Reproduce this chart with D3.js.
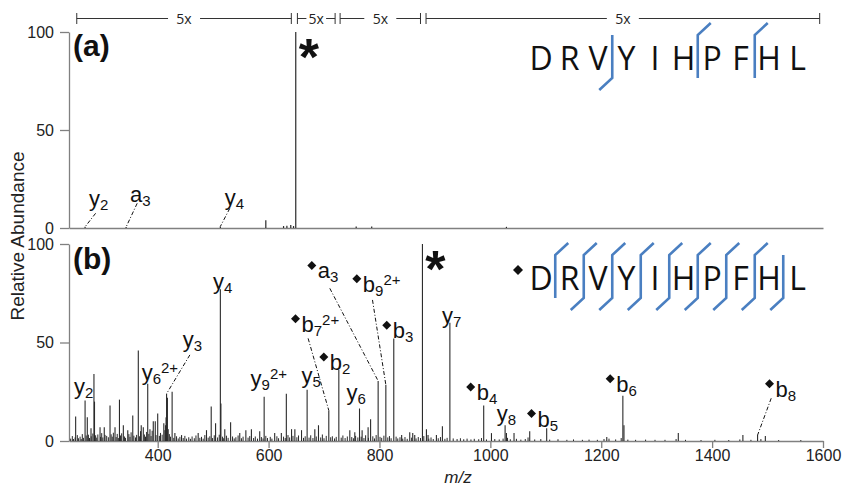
<!DOCTYPE html>
<html>
<head>
<meta charset="utf-8">
<script src="https://cdn.jsdelivr.net/npm/d3@7"></script>
<style>
body{margin:0;background:#fff;}
svg{display:block;font-family:"Liberation Sans",Arial,sans-serif;}
.axis path,.axis line{stroke:#808080;stroke-width:1.3;}
.axis text{fill:#222;font-size:16px;font-family:"Liberation Sans",Arial,sans-serif;}
.ion{font-family:"Liberation Sans Narrow","Arial Narrow","Liberation Sans",sans-serif;font-size:22px;fill:#111;}
.seq{font-family:"Open Sans",sans-serif;font-size:32px;fill:#111;}
</style>
</head>
<body>
<div id="chart"></div>
<script>
// ---- data ----
var mzDomain = [240, 1600];
var xTicks = [400, 600, 800, 1000, 1200, 1400, 1600];
var yTicks = [0, 50, 100];

var precursorA = 649;
var precursorB = 877.5;

// [m/z, relative abundance]
var peaksA = [[269,0.6],[343,0.5],[513,0.8],[595,4],[627,1],[633,1.2],[640,1.5],[645,1],
	[649,100],[758,0.8],[786,0.8],[1029,0.6]];

var peaksB = [[252,12.5],[269,20.5],[273,12],[279.7,6.5],[285,34],[286,20],[296,7],[303.6,7],
	[314,18],[323,7],[331,21],[338,8],[346,5.5],[355,13],[365,46],[370.3,8],[374,7],[382,29],
	[386,6],[392,10],[395.6,10],[400,14],[411,9],[416,24],[417.5,22],[426,25],[431,4],[443,3],
	[473,4],[488,5.5],[496.5,17.5],[504.4,9],[513,77],[514,19],[521,6],[531.5,9.5],[548,4],
	[559,5.5],[569,6],[584,5],[592,22.5],[611,4],[623,4],[632,24],[641.4,6],[647.4,6],
	[659.4,5.5],[669.5,26],[683.4,6],[690,8],[708.6,15.5],[726.7,36],[746.5,5.5],[755.5,4.5],
	[764,16.5],[768.7,5.5],[779.5,7],[784,11],[797.6,30.5],[811.5,28.5],[825.8,52],[840,3],
	[854.6,4.5],[860,4],[863.6,3],[877.5,100],[884.7,6],[887.6,3],[902.7,3],[913.5,7.5],
	[927,60],[988,18],[1002,4],[1026.6,8],[1029,4],[1042.7,4],[1071,5],[1101.6,6.5],[1210,2],
	[1239,23],[1241,8],[1339,4],[1455.5,3],[1482,3],[1496,2.5]];

var noiseB = [[243,1.2],[246,2.5],[248,1],[251,1.8],[255,3],[257,1.4],[260,2.2],[262,1],[264,3.5],
	[266,1.6],[271,2.8],[275,3.2],[277,1.5],[280,2.4],[283,3.8],[288,2.9],[290,1.7],[292,3.3],
	[297,2.1],[299,4],[301,1.8],[305,3.1],[308,2.6],[311,1.9],[316,3.4],[318,2.2],[320,4.2],
	[325,2],[327,3.6],[329,1.5],[333,2.8],[335,3.9],[340,2.3],[342,1.6],[348,3.5],[350,2.1],
	[352,4.4],[357,2.7],[360,1.8],[362,3.1],[367,2.4],[369,5],[376,3.3],[378,2.2],[380,4.6],
	[384,3.6],[388,2.5],[390,5.2],[397,3],[403,2.6],[405,4.1],[408,3.2],[413,5.5],[414,8],
	[415,12],[419,6],[421,3.5],[423,2.2],[429,1.6],[434,2.4],[437,1.3],[440,2.1],[446,1.5],
	[449,2.6],[452,1.2],[456,1.9],[459,1.1],[462,2.3],[466,1.4],[469,2.8],[476,1.6],[479,2.1],
	[482,1.2],[485,3],[491,1.7],[494,2.4],[499,1.5],[502,2.9],[508,1.8],[511,3.2],[517,2.2],
	[519,1.4],[524,2.7],[527,1.6],[535,2.3],[538,1.3],[541,1.9],[545,2.8],[551,1.4],[554,2.2],
	[563,1.7],[566,2.5],[573,1.5],[576,2.3],[580,1.2],[587,2],[590,1.3],[595,2.6],[598,1.5],
	[603,2.1],[606,1.2],[615,2.4],[618,1.4],[627,2.2],[630,1.5],[635,3],[638,1.8],[644,2.6],
	[651,1.9],[654,2.8],[663,1.6],[666,2.4],[673,1.7],[676,2.9],[680,1.5],[686,2.3],[694,1.8],
	[697,3.3],[700,1.4],[704,2.6],[712,1.9],[715,2.4],[719,1.3],[722,2.1],[731,1.7],[734,2.8],
	[738,1.5],[742,2.3],[750,2],[753,1.4],[757,2.6],[761,1.8],[767,2.2],[772,1.5],[775,2.9],
	[780,1.6],[788,2.4],[791,1.3],[794,3],[801,2.1],[804,1.6],[808,2.7],[815,1.8],[818,2.5],
	[821,1.4],[830,2.2],[833,1.3],[837,1.9],[842,1.2],[846,2],[850,1.1],[858,1.7],[866,1.3],
	[870,2],[874,1.5],[880,2.5],[889,1.2],[893,1.8],[897,1],[906,1.4],[910,2],[918,1.1],
	[922,1.6],[933,1.3],[940,1],[946,1.4],[952,0.9],[958,1.2],[965,0.8],[971,1.1],[979,0.9],
	[984,1.5],[993,0.8],[1008,1],[1016,0.8],[1023,1.2],[1031,1.6],[1036,0.9],[1047,1.1],
	[1055,0.7],[1063,1],[1068,1.8],[1080,0.8],[1091,1],[1107,0.7],[1122,0.9],[1138,0.6],
	[1150,0.8],[1166,0.6],[1178,0.7],[1193,0.6],[1205,1],[1214,1.2],[1226,0.8],[1236,1.5],
	[1248,0.7],[1262,0.6],[1280,0.7],[1297,0.6],[1315,0.6],[1335,1],[1352,0.6],[1380,0.5],
	[1405,0.6],[1430,0.5],[1450,0.8],[1470,0.6],[1488,1],[1520,0.5],[1560,0.5]];

// fragment labels: anchor and leader start in m/z / abundance units
var labelsA = [
	{ion:"y", sub:"2", mz:276, at:11.2, lead:[288,7.5], peak:269},
	{ion:"a", sub:"3", mz:350, at:13.3, lead:[363,12.6], peak:343},
	{ion:"y", sub:"4", mz:521, at:11.7, lead:[530,10], peak:513}
];
var labelsB = [
	{ion:"y", sub:"2", mz:249, at:23.9},
	{ion:"y", sub:"6", sup:"2+", mz:371, at:31.1},
	{ion:"y", sub:"3", mz:445, at:47.5, lead:[458,43.7], peak:416},
	{ion:"y", sub:"4", mz:499.6, at:77.2},
	{ion:"y", sub:"9", sup:"2+", mz:567.5, at:27.7},
	{ion:"y", sub:"5", mz:659.4, at:29.4},
	{mod:1, ion:"b", sub:"2", mz:710.4, at:36},
	{ion:"y", sub:"6", mz:740.5, at:21},
	{mod:1, ion:"b", sub:"7", sup:"2+", mz:659.4, at:55.5, lead:[671.3,52.1], peak:708.6},
	{mod:1, ion:"a", sub:"3", mz:688.8, at:82.5, lead:[710.4,77.5], peak:797.6},
	{mod:1, ion:"b", sub:"9", sup:"2+", mz:770, at:75.8, lead:[787.4,71.6], peak:811.5},
	{mod:1, ion:"b", sub:"3", mz:824, at:52.1},
	{ion:"y", sub:"7", mz:912.7, at:59.9},
	{mod:1, ion:"b", sub:"4", mz:975.4, at:20.8},
	{ion:"y", sub:"8", mz:1011.5, at:10},
	{mod:1, ion:"b", sub:"5", mz:1085, at:7.3},
	{mod:1, ion:"b", sub:"6", mz:1227, at:25},
	{mod:1, ion:"b", sub:"8", mz:1514.3, at:22.5, lead:[1506.6,21.7], peak:1482}
];

// magnified m/z windows of panel (a)
var zoomRanges = [[254,641],[652,720],[729,874],[884,1594]];
var zoomLabel = "5x";

var sequence = ["D","R","V","Y","I","H","P","F","H","L"];
// cleavage gaps (gap i lies between residue i-1 and i)
var cutsA = {gaps:[3,6,8], top:[6,8], bottom:[3]};
var cutsB = {gaps:[1,2,3,4,5,6,7,8,9], top:[1,2,3,4,5,6,7,8], bottom:[2,3,4,5,6,7,8,9]};

// ---- chart ----
var width = 843, height = 489;
var svg = d3.select("#chart").append("svg")
	.attr("width", width)
	.attr("height", height);

var x = d3.scaleLinear().domain(mzDomain).range([69, 823]);
var yA = d3.scaleLinear().domain([0,100]).range([228, 32]);
var yB = d3.scaleLinear().domain([0,100]).range([441, 244]);
var seqX = d3.scaleLinear().domain([0, sequence.length-1]).range([541, 797.5]);
var blue = "#4a7fc1";
var diamond = "M0,-4.5L4.5,0L0,4.5L-4.5,0Z";

function findPeak(list, mz){
	return list.reduce(function(a,b){
		return Math.abs(b[0]-mz) < Math.abs(a[0]-mz) ? b : a;
	});
}

function drawPeaks(g, list, y, w){
	g.selectAll(null)
		.data(list)
		.enter()
		.append("line")
			.attr("x1", function(d){ return x(d[0]); })
			.attr("x2", function(d){ return x(d[0]); })
			.attr("y1", y(0))
			.attr("y2", function(d){ return y(d[1]); })
			.attr("stroke", "#2a2a2a")
			.attr("stroke-width", w);
}

function drawLabels(g, list, y, peaks){
	list.forEach(function(d){
		var tx = x(d.mz), ty = y(d.at);
		if (d.mod) {
			g.append("path").attr("d", diamond).attr("fill", "#111")
				.attr("transform", "translate(" + (tx-6) + "," + (ty-13) + ")");
		}
		var t = g.append("text").attr("class", "ion").attr("x", tx).attr("y", ty);
		t.append("tspan").text(d.ion);
		t.append("tspan").attr("font-size", 15).attr("dy", 4).text(d.sub);
		if (d.sup) t.append("tspan").attr("font-size", 15).attr("dy", -11).text(d.sup);

		if (d.lead) {
			var p = findPeak(peaks, d.peak);
			g.append("line")
				.attr("x1", x(d.lead[0])).attr("y1", y(d.lead[1]))
				.attr("x2", x(p[0])).attr("y2", y(p[1]))
				.attr("stroke", "#111")
				.attr("stroke-width", 1)
				.attr("stroke-dasharray", "4,2,1,2");
		}
	});
}

function drawStar(g, mz, y){
	g.append("text")
		.attr("x", x(mz) + 13)
		.attr("y", y(100) + 43)
		.attr("text-anchor", "middle")
		.attr("font-size", 52)
		.attr("font-weight", "bold")
		.attr("fill", "#111")
		.text("*");
}

function drawSequence(g, base, cuts, mod){
	if (mod) {
		g.append("path").attr("d", "M0,-5L5,0L0,5L-5,0Z").attr("fill", "#111")
			.attr("transform", "translate(518," + (base-20) + ")");
	}
	g.selectAll(null)
		.data(sequence)
		.enter()
		.append("text")
			.attr("class", "seq")
			.attr("x", function(d,i){ return seqX(i); })
			.attr("y", base)
			.attr("text-anchor", "middle")
			.text(function(d){ return d; });

	cuts.gaps.forEach(function(i){
		var gx = seqX(i-0.5), top = base-35, bot = base+8;
		var pts = [];
		if (cuts.top.indexOf(i) >= 0) pts.push([gx+13, top-12]);
		pts.push([gx, top]);
		pts.push([gx, bot]);
		if (cuts.bottom.indexOf(i) >= 0) pts.push([gx-13, bot+12]);
		g.append("path")
			.attr("d", d3.line()(pts))
			.attr("fill", "none")
			.attr("stroke", blue)
			.attr("stroke-width", 2.6);
	});
}

// panel (a)
var gA = svg.append("g");
gA.append("g").attr("class", "axis")
	.attr("transform", "translate(0," + yA(0) + ")")
	.call(d3.axisBottom(x).tickValues([]).tickSizeOuter(0));
gA.append("g").attr("class", "axis")
	.attr("transform", "translate(69,0)")
	.call(d3.axisLeft(yA).tickValues(yTicks).tickSize(9).tickPadding(6).tickSizeOuter(0));
drawPeaks(gA, peaksA, yA, 1.2);
drawLabels(gA, labelsA, yA, peaksA);
drawStar(gA, precursorA, yA);

// magnification brackets
var br = gA.append("g").attr("stroke", "#333").attr("stroke-width", 1);
zoomRanges.forEach(function(r){
	var x0 = x(r[0]), x1 = x(r[1]), cy = 18.5, mid = (x0+x1)/2, tw = 16;
	var pad = Math.min(8, (x1-x0-tw)/2 - 9);
	br.append("line").attr("x1", x0).attr("x2", mid-tw/2-pad).attr("y1", cy).attr("y2", cy);
	br.append("line").attr("x1", mid+tw/2+pad).attr("x2", x1).attr("y1", cy).attr("y2", cy);
	br.append("line").attr("x1", x0).attr("x2", x0).attr("y1", cy-5.5).attr("y2", cy+5.5);
	br.append("line").attr("x1", x1).attr("x2", x1).attr("y1", cy-5.5).attr("y2", cy+5.5);
	gA.append("text")
		.attr("x", mid).attr("y", cy+5)
		.attr("text-anchor", "middle")
		.attr("font-family", "Open Sans, sans-serif")
		.attr("font-size", 14)
		.attr("fill", "#222")
		.text(zoomLabel);
});

drawSequence(gA, 70, cutsA, false);

gA.append("text")
	.attr("x", 73).attr("y", 55.5)
	.attr("font-size", 30).attr("font-weight", "bold").attr("fill", "#111")
	.text("(a)");

// panel (b)
var gB = svg.append("g");
gB.append("g").attr("class", "axis")
	.attr("transform", "translate(0," + yB(0) + ")")
	.call(d3.axisBottom(x).tickValues(xTicks).tickFormat(d3.format("d"))
		.tickSize(7).tickPadding(2).tickSizeOuter(0));
gB.append("g").attr("class", "axis")
	.attr("transform", "translate(69,0)")
	.call(d3.axisLeft(yB).tickValues(yTicks).tickSize(9).tickPadding(6).tickSizeOuter(0));
drawPeaks(gB, noiseB, yB, 1);
drawPeaks(gB, peaksB, yB, 1.1);
drawLabels(gB, labelsB, yB, peaksB);
drawStar(gB, precursorB, yB);
drawSequence(gB, 290, cutsB, true);

gB.append("text")
	.attr("x", 73).attr("y", 268.5)
	.attr("font-size", 30).attr("font-weight", "bold").attr("fill", "#111")
	.text("(b)");

// axis titles
svg.append("text")
	.attr("transform", "translate(24,236) rotate(-90)")
	.attr("text-anchor", "middle")
	.attr("font-size", 19)
	.attr("fill", "#222")
	.text("Relative Abundance");

svg.append("text")
	.attr("x", 458).attr("y", 483)
	.attr("text-anchor", "middle")
	.attr("font-size", 17)
	.attr("font-style", "italic")
	.attr("fill", "#222")
	.text("m/z");
</script>
</body>
</html>
